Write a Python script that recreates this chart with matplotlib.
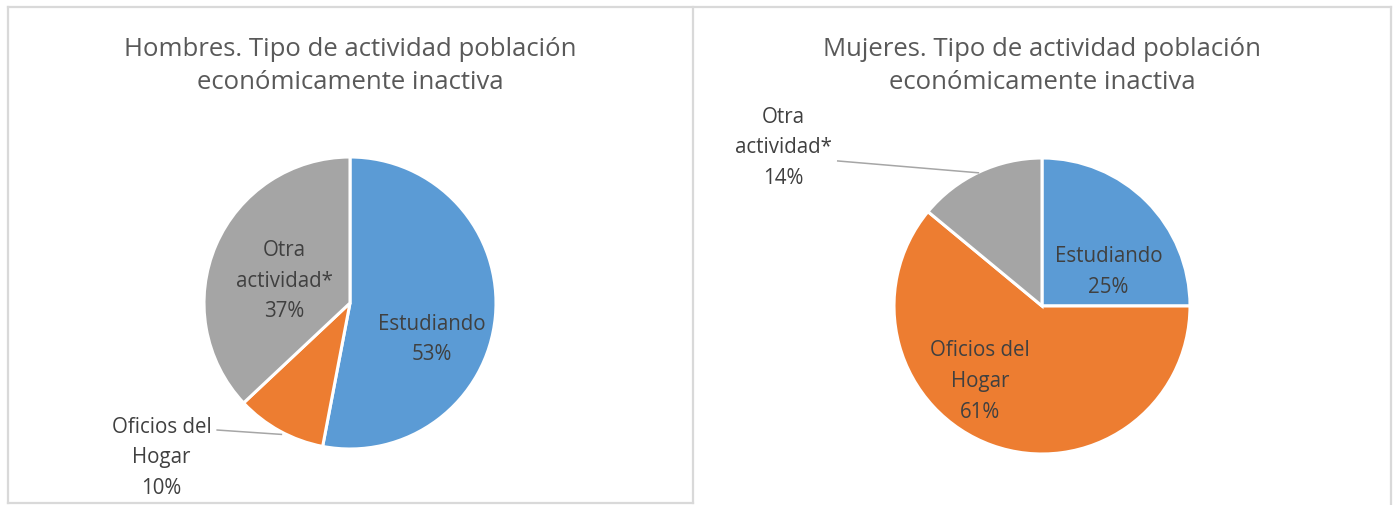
import matplotlib
matplotlib.use("Agg")
import matplotlib.pyplot as plt
from matplotlib.lines import Line2D

# datos
categorias = ["Estudiando", "Oficios del Hogar", "Otra actividad*"]
etiquetas = ["Estudiando", "Oficios del\nHogar", "Otra\nactividad*"]
hombres = [53, 10, 37]
mujeres = [25, 61, 14]
titulos = ["Hombres. Tipo de actividad población\neconómicamente inactiva",
           "Mujeres. Tipo de actividad población\neconómicamente inactiva"]

colores = ["#5B9BD5", "#ED7D31", "#A5A5A5"]
texto = "#595959"
plt.rcParams["font.family"] = ["Open Sans", "DejaVu Sans"]

W, H = 1395, 505
fig = plt.figure(figsize=(W / 100, H / 100), dpi=100)
fig.patch.set_facecolor("white")

# bordes de los paneles (px)
borde = "#D9D9D9"
def linea(xs, ys):
    fig.add_artist(Line2D([x / W for x in xs], [1 - y / H for y in ys], color=borde,
                          lw=1.6, transform=fig.transFigure))
linea([8, 1391], [6.5, 6.5])
linea([8, 8], [6.5, 503])
linea([8, 693], [503, 503])
linea([693, 693], [6.5, 503])
linea([1391, 1391], [6.5, 505])

# centro, radio, posiciones de etiquetas (en radios), lineas guia
paneles = [
    dict(valores=hombres, cx=350, cy=303, r=146, tx=350, ty=66,
         pos=[(0.56, -0.25), (-1.29, -1.06), (-0.45, 0.15)],
         guia={1: [(-0.91, -0.87), (-0.47, -0.90)]}),
    dict(valores=mujeres, cx=1042, cy=306, r=148, tx=1042, ty=66,
         pos=[(0.45, 0.23), (-0.42, -0.51), (-1.75, 1.07)],
         guia={2: [(-1.38, 0.98), (-0.43, 0.90)]}),
]

for p, titulo in zip(paneles, titulos):
    r = p["r"]
    ax = fig.add_axes([(p["cx"] - r) / W, (H - p["cy"] - r) / H, 2 * r / W, 2 * r / H])
    ax.pie(p["valores"], colors=colores, startangle=90, counterclock=False,
           wedgeprops=dict(edgecolor="white", linewidth=2.2))
    ax.set_xlim(-1, 1)
    ax.set_ylim(-1, 1)
    for i, (lab, v) in enumerate(zip(etiquetas, p["valores"])):
        x, y = p["pos"][i]
        ax.text(x, y, f"{lab}\n{v}%", ha="center", va="center", fontsize=14.8,
                color="#404040", linespacing=1.6, clip_on=False)
    for i, pts in p["guia"].items():
        ax.plot([pts[0][0], pts[1][0]], [pts[0][1], pts[1][1]], color="#A6A6A6",
                lw=1.1, clip_on=False)
    fig.text(p["tx"] / W, 1 - p["ty"] / H, titulo, ha="center", va="center",
             fontsize=18.5, color=texto, linespacing=1.45)

fig.savefig("out.png", dpi=100)
